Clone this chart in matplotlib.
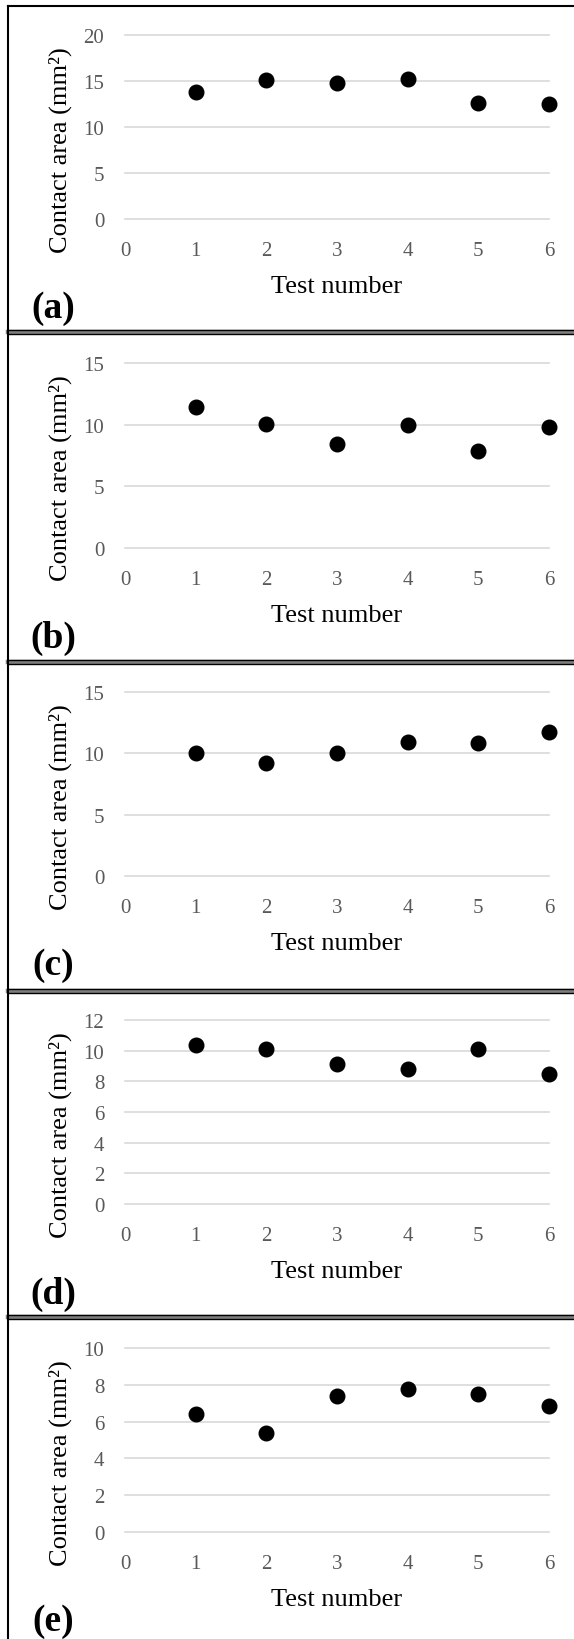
import matplotlib
matplotlib.use("Agg")
import matplotlib.pyplot as plt
from matplotlib.lines import Line2D

# Contact area per test for the five samples
tests = [1, 2, 3, 4, 5, 6]
area_a = [13.8, 15.1, 14.8, 15.25, 12.6, 12.45]
area_b = [11.45, 10.05, 8.4, 9.95, 7.85, 9.85]
area_c = [10.0, 9.25, 10.0, 10.9, 10.85, 11.75]
area_d = [10.35, 10.1, 9.15, 8.8, 10.1, 8.45]
area_e = [6.4, 5.4, 7.4, 7.75, 7.5, 6.85]

panel_labels = ["(a)", "(b)", "(c)", "(d)", "(e)"]
y_max = [20, 15, 15, 12, 10]
y_step = [5, 5, 5, 2, 2]
x_ticks = [0, 1, 2, 3, 4, 5, 6]

W, H = 574, 1640
plt.rcParams["font.family"] = ["Liberation Serif", "DejaVu Serif"]

fig = plt.figure(figsize=(W / 100, H / 100), dpi=100)


def fx(px):
    return px / W


def fy(py):
    return 1 - py / H


# pixel layout of each panel (top border, plot top, plot bottom)
borders = [7, 333, 663, 992, 1318]
plot_top = [36, 364, 693, 1021, 1349]
plot_bot = [220, 549, 877, 1205, 1533]
x_left, x_right = 125, 549

series = [area_a, area_b, area_c, area_d, area_e]
for i, vals in enumerate(series):
    ax = fig.add_axes([fx(x_left), fy(plot_bot[i]),
                       fx(x_right - x_left), (plot_bot[i] - plot_top[i]) / H])
    ax.plot(tests, vals, "o", color="black", markersize=10.5, clip_on=False, zorder=3)
    ax.set_xlim(0, 6)
    ax.set_ylim(0, y_max[i])
    ax.set_xticks(x_ticks)
    ax.set_yticks(list(range(0, y_max[i] + 1, y_step[i])))
    ax.yaxis.grid(True, color="#d9d9d9", linewidth=1.2)
    for gl in ax.get_ygridlines():
        gl.set_clip_on(False)
    ax.set_axisbelow(True)
    for s in ax.spines.values():
        s.set_visible(False)
    ax.tick_params(axis="both", length=0, labelsize=15, labelcolor="#595959")
    ax.tick_params(axis="y", pad=15)
    ax.tick_params(axis="x", pad=16)
    ax.set_facecolor("none")

    yc = (plot_top[i] + plot_bot[i]) / 2 + 22
    fig.text(fx(60), fy(yc), "Contact area (mm²)", rotation=90,
             ha="center", va="center", fontsize=19, color="black")
    fig.text(fx((x_left + x_right) / 2), fy(plot_bot[i] + 67), "Test number",
             ha="center", va="center", fontsize=19, color="black")
    fig.text(fx(53), fy(plot_bot[i] + 89), panel_labels[i],
             ha="center", va="center", fontsize=27, fontweight="bold", color="black")

# frame lines between panels
fig.add_artist(Line2D([fx(7.5), 1], [fy(borders[0]), fy(borders[0])],
                      color="black", linewidth=1.5))
for b in borders[1:]:
    fig.add_artist(Line2D([fx(7.5), 1], [fy(b), fy(b)], color="#7f7f7f", linewidth=3.2))
    fig.add_artist(Line2D([fx(7.5), 1], [fy(b - 1.6), fy(b - 1.6)], color="black", linewidth=1.0))
    fig.add_artist(Line2D([fx(7.5), 1], [fy(b + 1.6), fy(b + 1.6)], color="black", linewidth=1.0))
fig.add_artist(Line2D([fx(7.5), fx(7.5)], [fy(borders[0]), 0], color="black", linewidth=1.5))

fig.savefig("out.png", dpi=100)
